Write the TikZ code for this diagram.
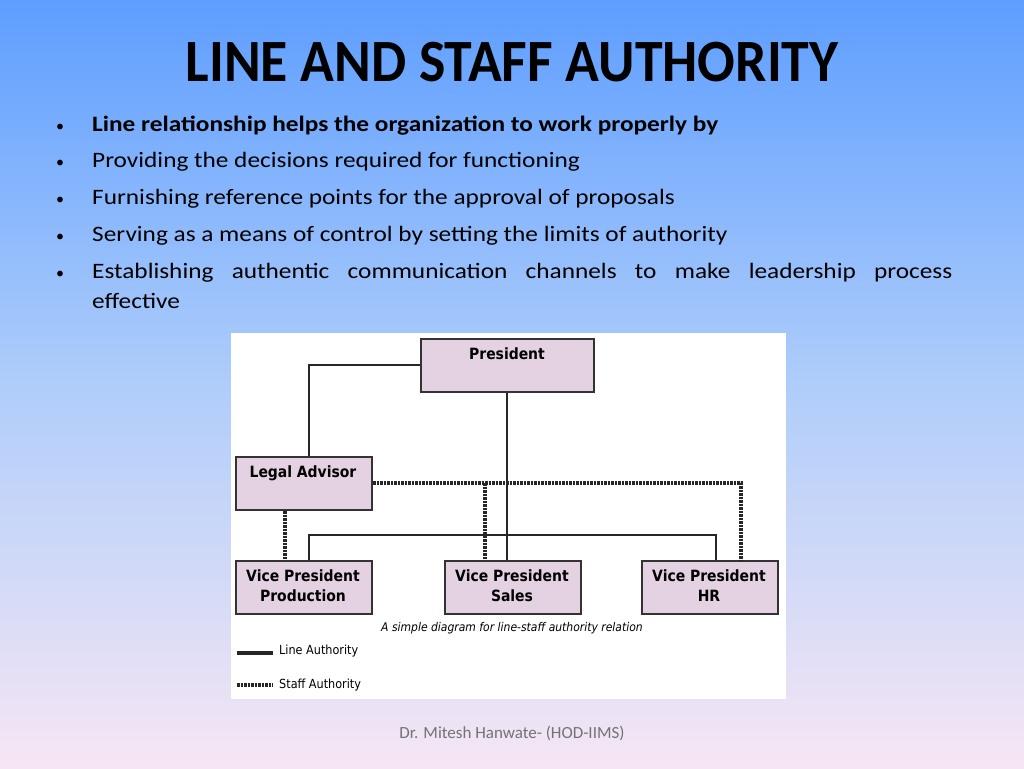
\documentclass[tikz,border=0pt]{standalone}
\usepackage{fontspec}
\setmainfont{Carlito}
\newfontfamily\dia{DejaVu Sans Condensed}
\begin{document}
\begin{tikzpicture}[x=1pt,y=-1pt,
  box/.style={draw=black!80,line width=2.2pt,fill={rgb,255:red,228;green,210;blue,226},inner sep=0pt},
  lbl/.style={font=\dia\bfseries\fontsize{15.5}{20}\selectfont,align=center,anchor=north},
  ln/.style={line width=2.2pt,black!85},
  st/.style={line width=3.4pt,black!85,dash pattern=on 2.5pt off 1pt},
  bt/.style={anchor=base west,font=\fontsize{22}{25}\selectfont,xscale=1.15,transform shape,inner sep=0pt},
  bd/.style={anchor=base,font=\fontsize{16}{20}\selectfont,inner sep=0pt}]
\shade[top color={rgb,255:red,94;green,158;blue,255},bottom color={rgb,255:red,246;green,230;blue,244},middle color={rgb,255:red,175;green,205;blue,250}] (0,0) rectangle (1024,768);
\useasboundingbox (0,0) rectangle (1024,768);
\node[font=\bfseries\fontsize{60}{64}\selectfont,xscale=0.93,transform shape] (title) at (512,62) {LINE AND STAFF AUTHORITY};
\foreach \y/\t [count=\i] in {131/{\textbf{Line relationship helps the organization to work properly by}},167/{Providing the decisions required for functioning},204/{Furnishing reference points for the approval of proposals},241/{Serving as a means of control by setting the limits of authority}}{
  \node[bt] (b\i) at (92,\y) {\t};
  \node[bd] (d\i) at (60,\y) {•};
}
\node[bt] (b5) at (92,278) {\makebox[748pt][s]{Establishing authentic communication channels to make leadership process}};
\node[bd] (d5) at (60,278) {•};
\node[bt] (b6) at (92,308) {effective};
\node[fill=white,minimum width=555pt,minimum height=366pt,inner sep=0pt,anchor=north west] (panel) at (231,333) {};
\node[box,minimum width=173pt,minimum height=53pt,anchor=north west] (pres) at (420,338) {};
\node[lbl] at (507,344) {President};
\node[box,minimum width=136pt,minimum height=53pt,anchor=north west] (legal) at (235,456) {};
\node[lbl] at (303,462) {Legal Advisor};
\node[box,minimum width=136pt,minimum height=53pt,anchor=north west] (vpp) at (235,560) {};
\node[lbl] at (303,566) {Vice President\\Production};
\node[box,minimum width=136pt,minimum height=53pt,anchor=north west] (vps) at (444,560) {};
\node[lbl] at (512,566) {Vice President\\Sales};
\node[box,minimum width=136pt,minimum height=53pt,anchor=north west] (vph) at (641,560) {};
\node[lbl] at (709,566) {Vice President\\HR};
\draw[ln] (pres.west|-0,365) -| (309,0|-legal.north);
\draw[ln] (pres.south-|507,0) -- (vps.north-|507,0);
\draw[ln] (309,0|-vpp.north) |- (716,535) -- (716,0|-vph.north);
\draw[st] (legal.east|-0,483) -| (741,0|-vph.north);
\draw[st] (485,483) -- (485,0|-vps.north);
\draw[st] (285,0|-legal.south) -- (285,0|-vpp.north);
\node[font=\dia\itshape\fontsize{12}{14}\selectfont] (cap) at (512,628) {A simple diagram for line-staff authority relation};
\coordinate (l1a) at (237,653); \coordinate (l1b) at (273,653);
\draw[line width=3.2pt,black!85] (l1a) -- (l1b);
\node[font=\dia\fontsize{12.5}{14}\selectfont,anchor=west,inner sep=0pt] (lt1) at (279,651) {Line Authority};
\coordinate (l2a) at (237,685); \coordinate (l2b) at (273,685);
\draw[st] (l2a) -- (l2b);
\node[font=\dia\fontsize{12.5}{14}\selectfont,anchor=west,inner sep=0pt] (lt2) at (279,685) {Staff Authority};
\node[font=\fontsize{17}{20}\selectfont,text=black!55] (foot) at (512,733) {Dr. Mitesh Hanwate- (HOD-IIMS)};
\end{tikzpicture}
\end{document}
